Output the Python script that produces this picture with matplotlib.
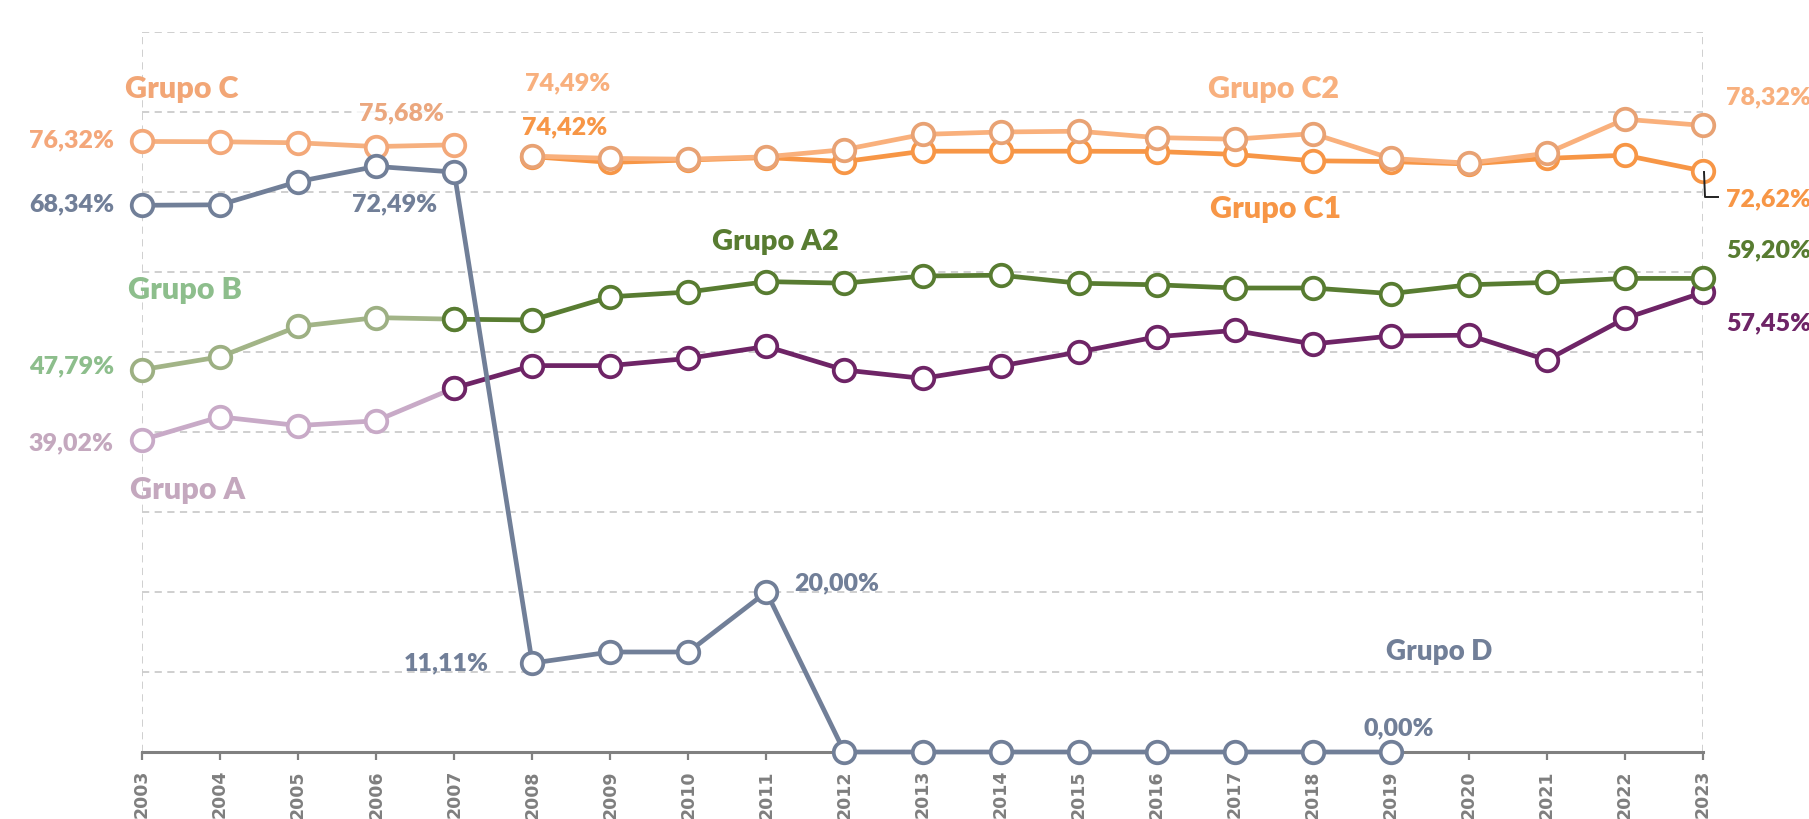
import matplotlib
matplotlib.use("Agg")
import matplotlib.pyplot as plt

plt.rcParams['font.family'] = ['Lato', 'DejaVu Sans']

years = list(range(2003, 2024))

# Values (%)
grupo_c_years = [2003, 2004, 2005, 2006, 2007]
grupo_c = [76.32, 76.28, 76.15, 75.68, 75.90]

grupo_b_years = [2003, 2004, 2005, 2006, 2007]
grupo_b = [47.79, 49.40, 53.20, 54.30, 54.10]

grupo_a_years = [2003, 2004, 2005, 2006, 2007]
grupo_a = [39.02, 41.90, 40.80, 41.40, 45.50]

grupo_d_years = list(range(2003, 2020))
grupo_d = [68.34, 68.40, 71.30, 73.20, 72.49, 11.11, 12.50, 12.50, 20.00,
           0.00, 0.00, 0.00, 0.00, 0.00, 0.00, 0.00, 0.00]

grupo_a2_years = list(range(2007, 2024))
grupo_a2 = [54.10, 54.00, 56.90, 57.50, 58.80, 58.60, 59.50, 59.60, 58.60,
            58.40, 58.00, 58.00, 57.30, 58.40, 58.70, 59.20, 59.20]

grupo_a1_years = list(range(2007, 2024))
grupo_a1 = [45.50, 48.30, 48.30, 49.20, 50.70, 47.75, 46.70, 48.25, 50.00,
            51.90, 52.70, 51.00, 52.00, 52.10, 49.00, 54.20, 57.45]

grupo_c1_years = list(range(2008, 2024))
grupo_c1 = [74.42, 73.70, 74.00, 74.30, 73.80, 75.10, 75.10, 75.10, 75.06,
            74.70, 73.90, 73.80, 73.50, 74.20, 74.60, 72.62]

grupo_c2_years = list(range(2008, 2024))
grupo_c2 = [74.49, 74.20, 74.10, 74.40, 75.30, 77.20, 77.50, 77.60, 76.80,
            76.60, 77.30, 74.20, 73.60, 74.85, 79.10, 78.32]

fig = plt.figure(figsize=(18.09, 8.19), dpi=100)
ax = fig.add_axes([142/1809, 1 - 752/819, (1703 - 142)/1809, (752 - 32)/819])
ax.set_xlim(2003, 2023)
ax.set_ylim(0, 90)

grid_c = '#CCCCCC'
for v in range(10, 100, 10):
    ax.axhline(v, color=grid_c, lw=1.3, ls=(0, (4, 3)), zorder=0)
for xv in (2003, 2023):
    ax.axvline(xv, color=grid_c, lw=1.3, ls=(0, (4, 3)), zorder=0)

for s in ['top', 'right', 'left']:
    ax.spines[s].set_visible(False)
ax.spines['bottom'].set_color('#808080')
ax.spines['bottom'].set_linewidth(2.2)
ax.set_yticks([])
ax.set_xticks(years)
ax.set_xticklabels([str(y) for y in years], rotation=90, fontsize=12.5,
                   fontweight='bold', color='#7F7F7F', family='DejaVu Sans')
ax.tick_params(axis='x', length=6, width=1.6, color='#808080', pad=7)

LW = 3.4
MS = 15.5
MEW = 2.7


def series(xs, ys, color, mec=None, z=3):
    ax.plot(xs, ys, color=color, lw=LW, marker='o', ms=MS, mfc='white',
            mec=mec or color, mew=MEW, clip_on=False, zorder=z)


c_light = '#F6B07F'
c2_col = '#F9B07C'
c1_col = '#F79646'
d_col = '#717F98'
b_col = '#A2B487'
a2_col = '#587C31'
a_col = '#C8AAC7'
a1_col = '#6E2466'

series(grupo_a_years, grupo_a, a_col, z=3)
series(grupo_a1_years, grupo_a1, a1_col, z=4)
series(grupo_b_years, grupo_b, b_col, mec='#9DB083', z=3)
series(grupo_a2_years, grupo_a2, a2_col, z=4)
series(grupo_c_years, grupo_c, c_light, mec='#F3A879', z=3)
series(grupo_c1_years, grupo_c1, c1_col, z=4)
series(grupo_c2_years, grupo_c2, c2_col, mec='#E8A274', z=5)
series(grupo_d_years, grupo_d, d_col, z=6)

# leader line for 72,62%
fig.add_artist(plt.Line2D([1704/1809, 1705/1809, 1718/1809],
                          [1 - 172/819, 1 - 197/819, 1 - 197/819],
                          color='#222222', lw=1.4))


def ftext(x, y, s, color, size=18, ha='left', weight='heavy', **kw):
    fig.text(x/1809, 1 - y/819, s, color=color, fontsize=size, ha=ha,
             va='center', fontweight=weight, **kw)


GS = 22
VS = 18
# group names
ftext(125, 89, 'Grupo C', '#F2A676', GS)
ftext(128, 290, 'Grupo B', '#8DBE8C', GS)
ftext(130, 490, 'Grupo A', '#C4A8BE', GS)
ftext(712, 242, 'Grupo A2', a2_col, 21)
ftext(1208, 89, 'Grupo C2', '#F8B07E', GS)
ftext(1210, 209, 'Grupo C1', c1_col, GS)
ftext(1386, 652, 'Grupo D', d_col, 20)

# value labels
ftext(114, 140, '76,32%', '#F4A77A', VS, ha='right')
ftext(114, 204, '68,34%', d_col, VS, ha='right')
ftext(114, 366, '47,79%', '#8DBE8C', VS, ha='right')
ftext(113, 443, '39,02%', '#C4A8BE', VS, ha='right')
ftext(401, 113, '75,68%', '#EBA77E', VS, ha='center',
      bbox=dict(boxstyle='square,pad=0.1', fc='white', ec='none', alpha=0.8))
ftext(395, 204, '72,49%', d_col, VS, ha='center')
ftext(568, 83, '74,49%', '#F8B07E', VS, ha='center')
ftext(565, 127, '74,42%', c1_col, VS, ha='center')
ftext(1726, 97, '78,32%', '#F8B07E', VS)
ftext(1726, 199, '72,62%', c1_col, VS)
ftext(1726, 250, '59,20%', a2_col, VS)
ftext(1726, 323, '57,45%', a1_col, VS)
ftext(489, 663, '11,11%', d_col, VS, ha='right')
ftext(794, 583, '20,00%', d_col, VS)
ftext(1399, 728, '0,00%', d_col, VS, ha='center')

fig.savefig('out.png', dpi=100)
